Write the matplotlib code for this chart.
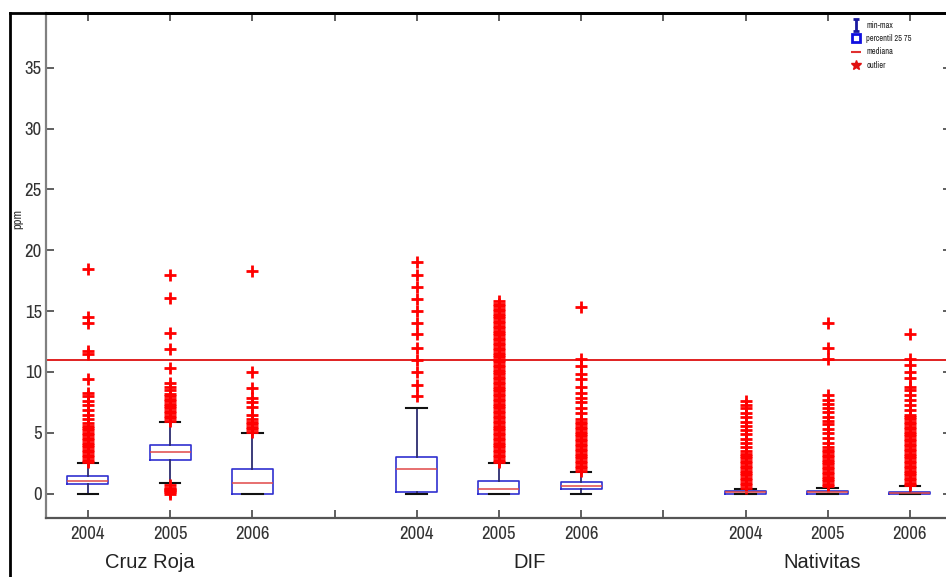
import matplotlib
matplotlib.use("Agg")
import matplotlib.pyplot as plt
from matplotlib.lines import Line2D
from matplotlib.path import Path

# ---------------- data ----------------
stations = ["Cruz Roja", "DIF", "Nativitas"]
years = ["2004", "2005", "2006"]
tick_labels = ["2004", "2005", "2006", "", "2004", "2005", "2006", "", "2004", "2005", "2006"]
positions = [1, 2, 3, 5, 6, 7, 9, 10, 11]

q1 =      [0.80, 2.80, 0.00, 0.15, 0.00, 0.35, 0.00, 0.00, 0.00]
medians = [1.05, 3.45, 0.90, 2.05, 0.40, 0.60, 0.10, 0.10, 0.05]
q3 =      [1.45, 4.00, 2.05, 3.00, 1.00, 0.95, 0.25, 0.25, 0.15]
whislo =  [0.00, 0.90, 0.00, 0.00, 0.00, 0.00, 0.00, 0.00, 0.00]
whishi =  [2.50, 5.90, 5.00, 7.00, 2.50, 1.80, 0.40, 0.50, 0.60]

fliers_cr2004 = [2.6, 2.8, 3.0, 3.2, 3.4, 3.6, 3.8, 4.0, 4.2, 4.4, 4.6, 4.8, 5.0,
                 5.2, 5.4, 5.6, 5.8, 6.1, 6.5, 6.9, 7.3, 7.6, 8.0, 8.3, 9.4,
                 11.5, 11.7, 14.0, 14.5, 18.5]
fliers_cr2005 = [0.0, 0.1, 0.2, 0.3, 0.4, 0.5, 0.7,
                 6.0, 6.2, 6.4, 6.6, 6.8, 7.0, 7.2, 7.4, 7.6, 7.8, 8.0, 8.2,
                 8.5, 8.8, 9.1, 10.3, 11.9, 13.2, 16.1, 18.0]
fliers_cr2006 = [5.1, 5.3, 5.5, 5.7, 5.9, 6.1, 6.5, 7.1, 7.5, 7.9, 8.7, 10.0, 18.3]
fliers_dif2004 = [8.0, 8.9, 10.0, 11.0, 12.0, 13.1, 14.0, 15.0, 16.0, 17.0, 18.0, 19.0]
fliers_dif2005 = [2.6, 2.8, 3.0, 3.2, 3.4, 3.6, 3.8, 4.0, 4.2, 4.4, 4.6, 4.8, 5.0,
                  5.2, 5.4, 5.6, 5.8, 6.0, 6.2, 6.4, 6.6, 6.8, 7.0, 7.2, 7.4, 7.6,
                  7.8, 8.0, 8.2, 8.4, 8.6, 8.8, 9.0, 9.2, 9.4, 9.6, 9.8, 10.0,
                  10.2, 10.4, 10.6, 10.8, 11.0, 11.2, 11.4, 11.6, 11.8, 12.0,
                  12.2, 12.4, 12.6, 12.8, 13.0, 13.2, 13.4, 13.6, 13.8, 14.0,
                  14.2, 14.4, 14.6, 14.8, 15.0, 15.2, 15.4, 15.6, 15.8]
fliers_dif2006 = [1.9, 2.1, 2.3, 2.5, 2.7, 2.9, 3.1, 3.3, 3.5, 3.7, 3.9, 4.1,
                  4.3, 4.5, 4.7, 4.9, 5.1, 5.3, 5.5, 5.7, 5.9, 6.1,
                  6.6, 7.0, 7.5, 7.9, 8.3, 8.8, 9.4, 9.8, 10.5, 11.1, 15.3]
fliers_nat2004 = [0.5, 0.7, 0.9, 1.1, 1.3, 1.5, 1.7, 1.9, 2.1, 2.3, 2.5, 2.7,
                  2.9, 3.1, 3.3, 3.5, 3.8, 4.2, 4.5, 4.9, 5.2, 5.6, 5.9, 6.3,
                  6.6, 7.0, 7.3, 7.6]
fliers_nat2005 = [0.6, 0.8, 1.0, 1.2, 1.4, 1.6, 1.8, 2.0, 2.2, 2.4, 2.6, 2.8,
                  3.0, 3.2, 3.4, 3.6, 3.8, 4.2, 4.6, 5.0, 5.3, 5.7, 6.0, 6.3,
                  6.7, 7.0, 7.4, 7.7, 8.1, 11.1, 12.0, 14.0]
fliers_nat2006 = [0.7, 0.9, 1.1, 1.3, 1.5, 1.7, 1.9, 2.1, 2.3, 2.5, 2.7, 2.9,
                  3.1, 3.3, 3.5, 3.7, 3.9, 4.1, 4.3, 4.5, 4.7, 4.9, 5.1, 5.3,
                  5.5, 5.7, 5.9, 6.1, 6.3, 6.5, 6.9, 7.3, 7.7, 8.1, 8.5, 8.8,
                  9.5, 10.0, 10.6, 11.1, 13.1]
fliers = [fliers_cr2004, fliers_cr2005, fliers_cr2006,
          fliers_dif2004, fliers_dif2005, fliers_dif2006,
          fliers_nat2004, fliers_nat2005, fliers_nat2006]

limit_value = 11.0
legend_labels = ["min-max", "percentil 25 75", "mediana", "outlier"]

# ---------------- figure ----------------
W, H = 946, 577
fig = plt.figure(figsize=(W / 100, H / 100), dpi=100)

ax_left, ax_right, ax_top, ax_bottom = 46, 951, 13, 518
ax = fig.add_axes([ax_left / W, 1 - ax_bottom / H,
                   (ax_right - ax_left) / W, (ax_bottom - ax_top) / H])

stats = []
for i in range(len(positions)):
    stats.append(dict(med=medians[i], q1=q1[i], q3=q3[i],
                      whislo=whislo[i], whishi=whishi[i], fliers=fliers[i]))

ax.bxp(stats, positions=positions, widths=0.5, capwidths=0.25,
       patch_artist=False, manage_ticks=False,
       boxprops=dict(color="#3030d0", linewidth=1.2),
       medianprops=dict(color="#e04848", linewidth=1.1),
       whiskerprops=dict(color="#2c2c70", linewidth=1.3, linestyle="-"),
       capprops=dict(color="#111111", linewidth=1.5),
       flierprops=dict(marker="+", markeredgecolor="#ff0000",
                       markersize=8, markeredgewidth=2.0, linestyle="none"))

ax.axhline(limit_value, color="#e02020", linewidth=1.4, zorder=1)

ax.set_xlim(0.49, 11.5)
ax.set_ylim(-2, 39.5)
ax.set_xticks(range(1, 12))
ax.set_xticklabels(tick_labels)
ax.set_yticks([0, 5, 10, 15, 20, 25, 30, 35])

narrow = ["Archivo Narrow", "PT Sans Narrow", "DejaVu Sans"]
for lab in ax.get_xticklabels() + ax.get_yticklabels():
    lab.set_family(narrow)
    lab.set_fontsize(13.5)
    lab.set_color("#333333")

ax.tick_params(axis="both", direction="in", length=6, width=1.2,
               color="#444444", top=True, right=True)
ax.tick_params(axis="x", pad=6)
ax.tick_params(axis="y", pad=3)

ax.spines["left"].set_color("#808080")
ax.spines["left"].set_linewidth(1.6)
ax.spines["bottom"].set_color("#555555")
ax.spines["bottom"].set_linewidth(1.6)
ax.spines["top"].set_color("black")
ax.spines["top"].set_linewidth(2)
ax.spines["right"].set_visible(False)

# outer figure frame (left and top)
fig.add_artist(Line2D([10 / W, 10 / W], [0, 1 - 13 / H], color="black",
                      linewidth=2, transform=fig.transFigure))
fig.add_artist(Line2D([10 / W, 1], [1 - 13 / H, 1 - 13 / H], color="black",
                      linewidth=2, transform=fig.transFigure))

# y label
fig.text(18 / W, 1 - 219 / H, "ppm", rotation=90, ha="center", va="center",
         fontsize=9, color="#333333", family=narrow)

# station labels
station_px = [150, 530, 822]
for name, px in zip(stations, station_px):
    fig.text(px / W, 1 - 563 / H, name, ha="center", va="center",
             fontsize=14.5, color="#222222", family=["Liberation Sans", "DejaVu Sans"])

# legend
ibeam = Path([(-0.5, 1), (0.5, 1), (0, 1), (0, -1), (-0.5, -1), (0.5, -1)],
             [Path.MOVETO, Path.LINETO, Path.MOVETO, Path.LINETO, Path.MOVETO, Path.LINETO])
handles = [
    Line2D([], [], linestyle="none", marker=ibeam, markersize=8,
           markeredgecolor="#1a1aa0", markeredgewidth=2),
    Line2D([], [], linestyle="none", marker="s", markersize=6, fillstyle="none",
           markeredgecolor="#1010e0", markeredgewidth=2),
    Line2D([], [], linestyle="none", marker="_", markersize=7,
           markeredgecolor="#e03030", markeredgewidth=1.5),
    Line2D([], [], linestyle="none", marker="*", markersize=7,
           markerfacecolor="#e01010", markeredgecolor="#e01010"),
]
leg = fig.legend(handles, legend_labels, loc="upper left",
                 bbox_to_anchor=(848 / W, 1 - 17 / H), bbox_transform=fig.transFigure,
                 frameon=False, fontsize=6, handlelength=1.0, handletextpad=0.7,
                 labelspacing=0.5, borderpad=0)
for t in leg.get_texts():
    t.set_color("#222222")
    t.set_family(narrow)

fig.savefig("out.png", dpi=100)
